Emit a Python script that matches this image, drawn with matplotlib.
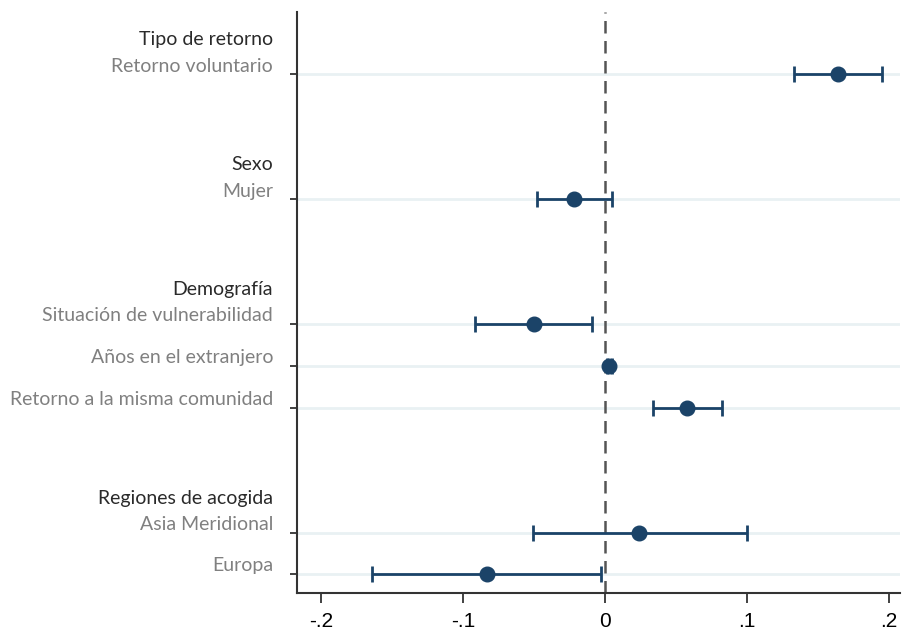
import matplotlib

matplotlib.use("Agg")
import matplotlib.pyplot as plt
import matplotlib.transforms as mtransforms
import numpy as np


# Coefficient estimates with 95% confidence intervals
GROUPS = ["Tipo de retorno", "Sexo", "Demografía", "Regiones de acogida"]
LABELS = [
    "Retorno voluntario",
    "Mujer",
    "Situación de vulnerabilidad",
    "Años en el extranjero",
    "Retorno a la misma comunidad",
    "Asia Meridional",
    "Europa",
]
GROUP_OF = [0, 1, 2, 2, 2, 3, 3]
COEF = [0.164, -0.022, -0.050, 0.003, 0.058, 0.024, -0.0835]
CI_LOW = [0.133, -0.048, -0.092, 0.0015, 0.034, -0.051, -0.164]
CI_HIGH = [0.195, 0.005, -0.009, 0.0045, 0.082, 0.100, -0.003]
XTICKS = [-0.2, -0.1, 0.0, 0.1, 0.2]
XTICK_LABELS = ["-.2", "-.1", "0", ".1", ".2"]

NAVY = "#1b4368"


def row_positions():
    # items stacked one unit apart, with a two-unit gap before each new group
    pos = []
    y = 0
    for i, g in enumerate(GROUP_OF):
        if i > 0:
            y += 3 if g != GROUP_OF[i - 1] else 1
        pos.append(y)
    return np.array(pos, dtype=float)


def main():
    fig = plt.figure(figsize=(9.02, 6.33), dpi=100)
    ax = fig.add_axes([0.3293, 0.0632, 0.669, 0.918])

    ypos = row_positions()
    coef = np.array(COEF)
    err = np.vstack([coef - np.array(CI_LOW), np.array(CI_HIGH) - coef])

    for y in ypos:
        ax.axhline(y, color="#e9f1f3", linewidth=2, zorder=0)
    ax.axvline(0, color="#555555", linewidth=1.8, linestyle=(0, (5, 3)), zorder=1)

    ax.errorbar(
        coef, ypos, xerr=err, fmt="none", ecolor=NAVY, elinewidth=2,
        capsize=6, capthick=2, zorder=2,
    )
    ax.plot(coef, ypos, "o", color=NAVY, markersize=10.5, zorder=3)

    ax.set_xlim(-0.217, 0.208)
    ax.set_ylim(12.45, -1.5)
    ax.set_xticks(XTICKS)
    ax.set_xticklabels(XTICK_LABELS, fontsize=15, family="Liberation Sans")
    ax.set_yticks(ypos)
    ax.set_yticklabels([])
    ax.tick_params(axis="x", length=7.5, width=1.3, color="#333333", pad=6)
    ax.tick_params(axis="y", length=5, width=1.3, color="#333333")

    for side in ("top", "right"):
        ax.spines[side].set_visible(False)
    for side in ("left", "bottom"):
        ax.spines[side].set_linewidth(1.5)
        ax.spines[side].set_color("#333333")

    # row labels and group headers sit to the left of the axis
    trans = mtransforms.offset_copy(
        ax.get_yaxis_transform(), fig=fig, x=-24, y=0, units="dots"
    )
    seen = set()
    for i, (label, g) in enumerate(zip(LABELS, GROUP_OF)):
        if g not in seen:
            seen.add(g)
            ax.text(0, ypos[i] - 0.83, GROUPS[g], transform=trans, ha="right",
                    va="center", fontsize=14, color="#2a2a2a", family="Lato")
        ax.text(0, ypos[i] - 0.2, label, transform=trans, ha="right",
                va="center", fontsize=14, color="#808080", family="Lato")

    fig.savefig("out.png", dpi=100)
    plt.close(fig)


if __name__ == "__main__":
    main()
